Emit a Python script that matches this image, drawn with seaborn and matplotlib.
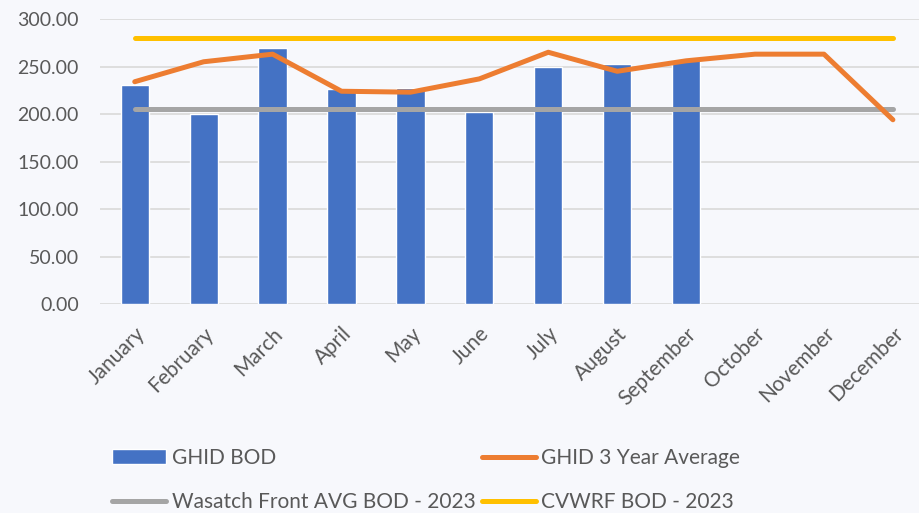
import numpy as np
import pandas as pd
import seaborn as sns
import matplotlib.pyplot as plt
from matplotlib.ticker import FormatStrFormatter

# data
months = ["January", "February", "March", "April", "May", "June", "July",
          "August", "September", "October", "November", "December"]
ghid_bod = [231, 200, 270, 226, 227, 202, 250, 253, 257]
ghid_3yr_avg = [234, 255, 263, 224, 223, 237, 265, 245, 256, 263, 263, 194]
wasatch_avg = [205] * 12
cvwrf_bod = [280] * 12

blue = "#4472C4"
orange = "#ED7D31"
grey = "#A5A5A5"
yellow = "#FFC000"
bg = "#F7F8FC"
text_col = "#595959"

sns.set_theme(style="white")
plt.rcParams["font.family"] = ["Lato", "DejaVu Sans"]

bars_df = pd.DataFrame({"Month": months[:len(ghid_bod)], "BOD": ghid_bod})
lines_df = pd.DataFrame({
    "x": np.arange(len(months)),
    "avg": ghid_3yr_avg,
    "wasatch": wasatch_avg,
    "cvwrf": cvwrf_bod,
})

fig = plt.figure(figsize=(9.2, 5.13), dpi=100, facecolor=bg)
ax = fig.add_axes([0.109, 0.407, 0.899, 0.556])
ax.set_facecolor(bg)

sns.barplot(data=bars_df, x="Month", y="BOD", order=months, color=blue,
            width=0.41, saturation=1, ax=ax, label="GHID BOD")
sns.lineplot(data=lines_df, x="x", y="wasatch", color=grey, linewidth=3.6,
             ax=ax, label="Wasatch Front AVG BOD - 2023", solid_capstyle="round")
sns.lineplot(data=lines_df, x="x", y="avg", color=orange, linewidth=3.6,
             ax=ax, label="GHID 3 Year Average", solid_capstyle="round")
sns.lineplot(data=lines_df, x="x", y="cvwrf", color=yellow, linewidth=3.6,
             ax=ax, label="CVWRF BOD - 2023", solid_capstyle="round")

ax.set_xlim(-0.5, 11.5)
ax.set_ylim(0, 300)
ax.set_yticks(np.arange(0, 301, 50))
ax.yaxis.set_major_formatter(FormatStrFormatter("%.2f"))
ax.yaxis.grid(True, color="#D9D9D9", linewidth=1.2)
ax.set_axisbelow(True)
for s in ax.spines.values():
    s.set_visible(False)
ax.set_xlabel("")
ax.set_ylabel("")
ax.tick_params(axis="both", length=0, labelcolor=text_col)
ax.tick_params(axis="y", pad=15.5, labelsize=14)
ax.set_xticks(np.arange(len(months)))
ax.set_xticklabels(months, rotation=45, ha="right", rotation_mode="anchor")
ax.tick_params(axis="x", pad=14, labelsize=15)

handles, labels = ax.get_legend_handles_labels()
ax.get_legend().remove()
order = ["GHID BOD", "Wasatch Front AVG BOD - 2023", "GHID 3 Year Average", "CVWRF BOD - 2023"]
hmap = dict(zip(labels, handles))
leg = fig.legend([hmap[l] for l in order], order, loc="upper left",
                 bbox_to_anchor=(0.122, 0.127), bbox_transform=fig.transFigure,
                 ncol=2, frameon=False, fontsize=15, handlelength=2.6,
                 handletextpad=0.25, columnspacing=0.3, labelspacing=1.16,
                 borderaxespad=0, borderpad=0)
for t in leg.get_texts():
    t.set_color(text_col)

fig.savefig("out.png", dpi=100, facecolor=bg)
